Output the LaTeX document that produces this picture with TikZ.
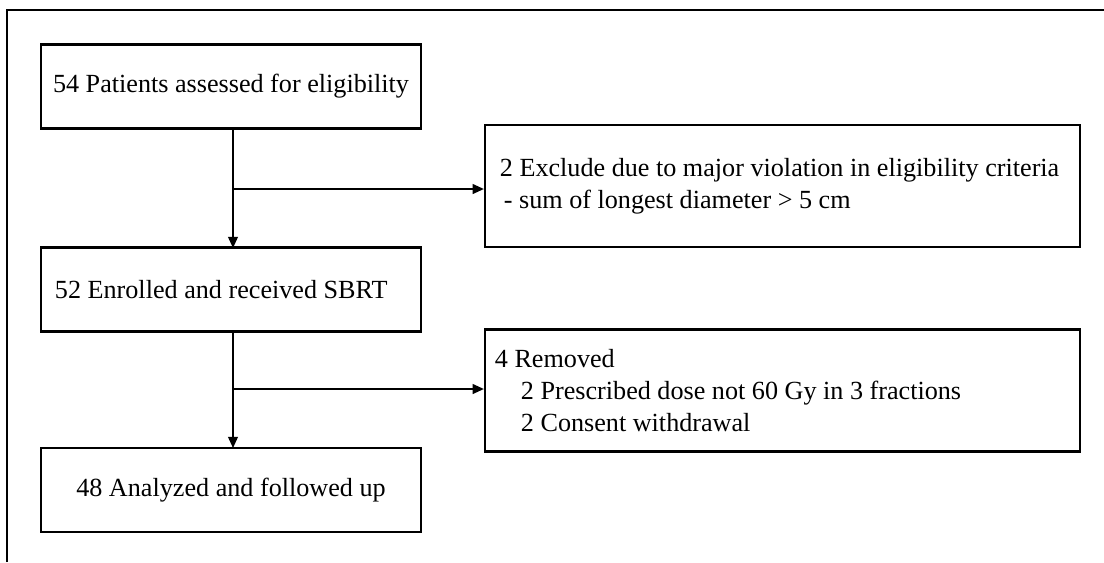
\documentclass[tikz,border=0pt]{standalone}
\usepackage{fontspec}
\setmainfont{Liberation Serif}
\usetikzlibrary{arrows.meta}
\begin{document}
\begin{tikzpicture}[x=0.025cm,y=-0.025cm,
  every node/.style={font=\fontsize{18.6}{23}\selectfont},
  mainbox/.style={draw,line width=1.5pt,inner xsep=0.1cm,inner ysep=0pt,minimum width=9.5cm,minimum height=2.1cm},
  sidebox/.style={draw,line width=1.5pt,inner ysep=0pt,align=flush left,minimum height=3.05cm},
  flowarrow/.style={line width=1.2pt,-{Triangle[length=8pt,width=7pt]}}]
\useasboundingbox (0,0) rectangle (1104,562);
% frame
\draw[line width=1pt] (7,562) -- (7,10) -- (1104,10);
% left column
\node[mainbox] (assessed) at (231,86.5) {54 Patients assessed for eligibility};
\node[mainbox,inner xsep=0.35cm,text width=8.8cm,align=flush left] (enrolled) at (231,289.5) {52 Enrolled and received SBRT};
\node[mainbox] (analyzed) at (231,490) {48 Analyzed and followed up};
% right column
\node[sidebox,inner xsep=0.375cm,text width=14.125cm] (excluded) at (782.5,186)
  {2 Exclude due to major violation in eligibility criteria\\\hspace*{0.1cm}- sum of longest diameter > 5 cm};
\node[sidebox,inner xsep=0.25cm,text width=14.375cm] (removed) at (782.5,390.5)
  {4 Removed\\\hspace*{0.65cm}2 Prescribed dose not 60 Gy in 3 fractions\\\hspace*{0.65cm}2 Consent withdrawal};
% connectors
\coordinate (split1) at (233,189);
\coordinate (split2) at (233,389);
\draw[flowarrow] (233,129) coordinate (top1) -- (233,248) coordinate (end1);
\draw[flowarrow] (split1) -- (excluded.west |- split1);
\draw[flowarrow] (233,331) coordinate (top2) -- (233,448) coordinate (end2);
\draw[flowarrow] (split2) -- (removed.west |- split2);
\end{tikzpicture}
\end{document}
